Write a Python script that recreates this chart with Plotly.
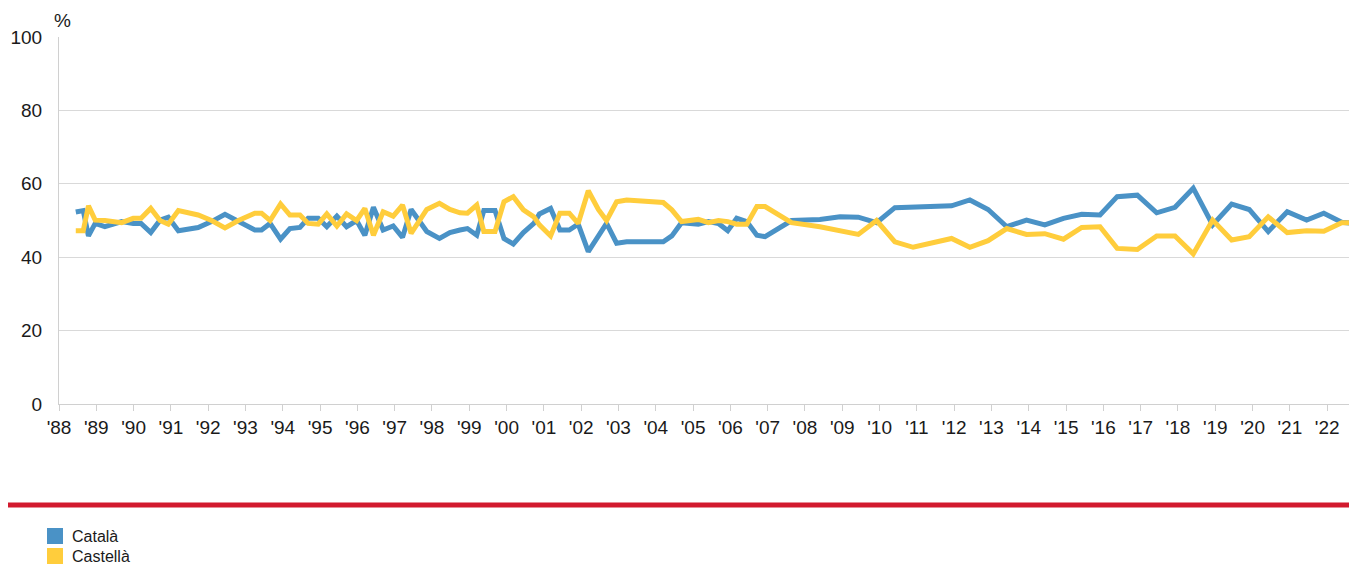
import plotly.graph_objects as go

# decimal-year dates of each survey wave
dates = [1988.45, 1988.65, 1988.79, 1988.97, 1989.23, 1989.68, 1989.99, 1990.20, 1990.46, 1990.71,
         1990.93, 1991.20, 1991.73, 1992.09, 1992.45, 1992.81, 1993.25, 1993.43, 1993.66, 1993.94,
         1994.19, 1994.46, 1994.68, 1994.95, 1995.18, 1995.45, 1995.71, 1995.98, 1996.20, 1996.43,
         1996.69, 1996.96, 1997.21, 1997.44, 1997.86, 1998.20, 1998.48, 1998.75, 1998.95, 1999.20,
         1999.39, 1999.69, 1999.93, 2000.18, 2000.45, 2000.73, 2000.88, 2001.18, 2001.43, 2001.68,
         2001.92, 2002.19, 2002.46, 2002.68, 2002.95, 2003.22, 2004.20, 2004.43, 2004.69, 2005.14,
         2005.41, 2005.68, 2005.93, 2006.17, 2006.44, 2006.71, 2006.93, 2007.64, 2008.40, 2008.94,
         2009.43, 2009.92, 2010.41, 2010.90, 2011.93, 2012.42, 2012.91, 2013.41, 2013.94, 2014.43,
         2014.93, 2015.42, 2015.91, 2016.37, 2016.91, 2017.43, 2017.92, 2018.41, 2018.93, 2019.44,
         2019.91, 2020.42, 2020.93, 2021.45, 2021.91, 2022.39, 2022.79]

catala = [52.3, 52.7, 45.8, 49.2, 48.3, 49.7, 49.2, 49.2, 46.7, 50.1,
          50.9, 47.2, 48.1, 49.7, 51.7, 49.7, 47.4, 47.4, 49.2, 44.9,
          47.8, 48.1, 50.6, 50.6, 48.3, 51.2, 48.3, 50.0, 46.0, 53.6,
          47.4, 48.5, 45.4, 53.0, 47.0, 45.1, 46.7, 47.4, 47.8, 46.0,
          52.7, 52.7, 45.1, 43.6, 46.7, 49.2, 51.8, 53.3, 47.4, 47.4,
          49.0, 41.5, 45.6, 49.2, 43.8, 44.2, 44.2, 45.8, 49.4, 49.0,
          49.7, 49.2, 47.2, 50.6, 49.7, 46.0, 45.6, 50.0, 50.3, 51.0,
          50.9, 49.4, 53.5, 53.7, 54.0, 55.6, 53.0, 48.3, 50.1, 48.8,
          50.6, 51.7, 51.5, 56.5, 56.9, 52.1, 53.6, 58.8, 48.8, 54.5,
          53.0, 47.0, 52.4, 50.1, 52.0, 49.5, 49.2]

castella = [47.2, 47.2, 54.0, 50.1, 50.0, 49.4, 50.6, 50.6, 53.3, 50.0,
            49.0, 52.7, 51.5, 50.0, 48.0, 50.0, 52.0, 52.0, 50.0, 54.5,
            51.5, 51.5, 49.2, 49.0, 51.8, 48.5, 51.8, 50.0, 53.3, 46.0,
            52.4, 51.2, 54.2, 46.5, 53.0, 54.7, 53.0, 52.1, 52.0, 54.2,
            47.0, 47.0, 55.1, 56.5, 52.9, 51.0, 48.8, 45.8, 52.0, 52.0,
            49.2, 58.1, 53.0, 50.0, 55.1, 55.6, 54.9, 52.9, 49.7, 50.3,
            49.4, 50.0, 49.7, 49.0, 49.0, 53.8, 53.8, 49.4, 48.3, 47.1,
            46.2, 50.0, 44.2, 42.7, 45.1, 42.7, 44.5, 47.8, 46.2, 46.4,
            44.9, 48.1, 48.3, 42.4, 42.1, 45.8, 45.8, 40.9, 50.1, 44.7,
            45.6, 51.0, 46.7, 47.2, 47.1, 49.4, 49.4]

series_names = ["Català", "Castellà"]
series_colors = ["#4a92c6", "#ffcd3c"]

year_ticks = list(range(1988, 2023))
year_labels = ["'" + str(y)[2:] for y in year_ticks]

fig = go.Figure()
for name, vals, col in zip(series_names, [catala, castella], series_colors):
    fig.add_trace(go.Scatter(x=dates, y=vals, mode="lines", name=name,
                             line=dict(color=col, width=5), showlegend=False))

# plot area in pixels: x 59..1357, y 37..404
PW, PH = 1298.0, 367.0

def px(xp):
    return (xp - 59) / PW

def py(yp):
    return (404 - yp) / PH

shapes = [dict(type="line", xref="paper", yref="paper",
               x0=px(8), x1=1, y0=py(505), y1=py(505),
               line=dict(color="#d21a2e", width=5))]
annotations = [dict(text="%", xref="paper", yref="paper", x=px(62), y=py(20),
                    xanchor="center", yanchor="middle", showarrow=False,
                    font=dict(size=19, color="#1a1a1a"))]

legend_rows = [536, 556]
for name, col, yc in zip(series_names, series_colors, legend_rows):
    shapes.append(dict(type="rect", xref="paper", yref="paper",
                       x0=px(47), x1=px(63), y0=py(yc + 8), y1=py(yc - 8),
                       fillcolor=col, line=dict(width=0)))
    annotations.append(dict(text=name, xref="paper", yref="paper",
                            x=px(70), y=py(yc), xanchor="left", yanchor="middle",
                            showarrow=False, font=dict(size=16, color="#1a1a1a")))

fig.update_layout(
    width=1349, height=558,
    margin=dict(l=51, r=0, t=29, b=162),
    paper_bgcolor="white", plot_bgcolor="white",
    font=dict(family="Liberation Sans, Arial", size=19, color="#1a1a1a"),
    showlegend=False,
    xaxis=dict(range=[1988, 2022.8], tickvals=year_ticks, ticktext=year_labels,
               showgrid=False, ticks="outside", ticklen=6, tickcolor="#d0d0d0",
               showline=True, linecolor="#d0d0d0", linewidth=1,
               tickfont=dict(size=19), zeroline=False),
    yaxis=dict(range=[0, 100], tickvals=[0, 20, 40, 60, 80, 100],
               showgrid=True, gridcolor="#d9d9d9", gridwidth=1,
               showline=True, linecolor="#d0d0d0", linewidth=1,
               ticks="", ticklabelstandoff=12, tickfont=dict(size=19),
               zeroline=False),
    shapes=shapes,
    annotations=annotations,
)

fig.write_html("out.html")
